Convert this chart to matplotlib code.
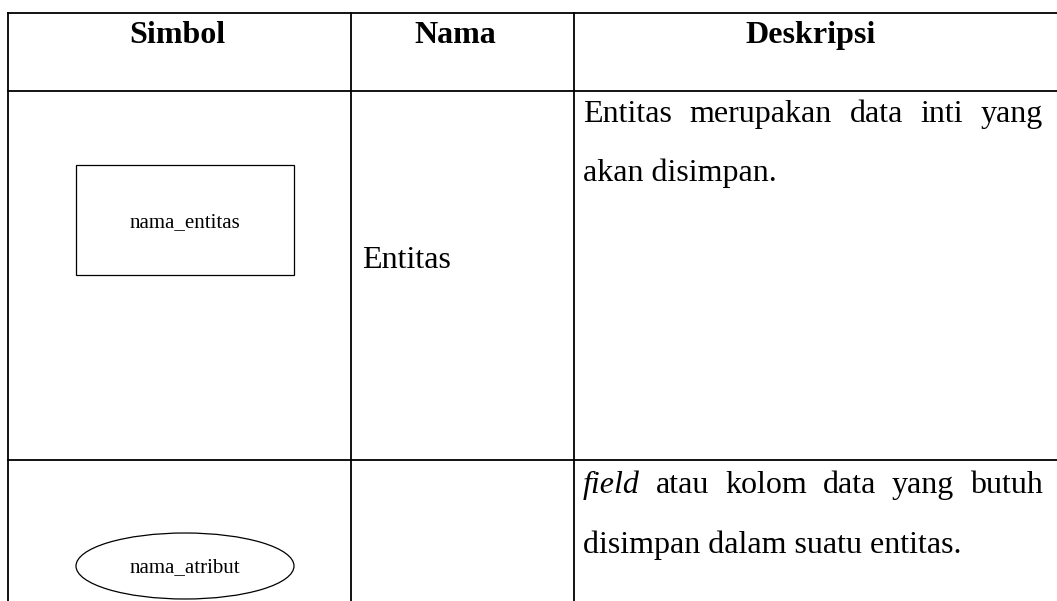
"""Recreate the ERD symbol table (Simbol / Nama / Deskripsi)."""

import matplotlib

matplotlib.use("Agg")
import matplotlib.pyplot as plt
from matplotlib.patches import Ellipse, Rectangle

headers = ["Simbol", "Nama", "Deskripsi"]
names = ["Entitas", ""]
symbol_labels = ["nama_entitas", "nama_atribut"]
symbol_shapes = ["rectangle", "ellipse"]
# each description: justified first line (list of words) + left-aligned last line
description_first = [
    ["Entitas", "merupakan", "data", "inti", "yang"],
    ["field", "atau", "kolom", "data", "yang", "butuh"],
]
description_last = ["akan disimpan.", "disimpan dalam suatu entitas."]
italic_words = {"field"}

W, H = 1057, 601
col_x = [8, 351, 574]
row_y = [13, 91, 460]
header_x = [177, 455, 811]
text_right = 1043
serif = "Liberation Serif"
size = 23


def main() -> None:
    fig = plt.figure(figsize=(W / 100, H / 100), dpi=100)
    ax = fig.add_axes([0, 0, 1, 1])
    ax.set_xlim(0, W)
    ax.set_ylim(H, 0)
    ax.axis("off")
    renderer = fig.canvas.get_renderer()

    line_kw = dict(color="black", linewidth=1.3, solid_capstyle="projecting")
    for y in row_y:
        ax.plot([col_x[0], W], [y, y], **line_kw)
    for x in col_x:
        ax.plot([x, x], [row_y[0], H + 5], **line_kw)

    # header row
    for cx, label in zip(header_x, headers):
        ax.text(cx, 43, label, ha="center", va="baseline", family=serif,
                fontsize=size, fontweight="bold")

    # symbols
    sym_cx = 185
    rect = Rectangle((76, 165), 218, 110, fill=False, edgecolor="black", linewidth=0.9)
    ax.add_patch(rect)
    ax.text(sym_cx, 227, symbol_labels[0], ha="center", va="baseline", family=serif, fontsize=15)
    ell = Ellipse((sym_cx, 566), 218, 66, fill=False, edgecolor="black", linewidth=0.9)
    ax.add_patch(ell)
    ax.text(sym_cx, 572, symbol_labels[1], ha="center", va="baseline", family=serif, fontsize=15)

    # names
    ax.text(362, 268, names[0], ha="left", va="baseline", family=serif, fontsize=size)

    # descriptions
    left = 583
    baselines = [(122, 181), (493, 553)]
    for words, last, (y1, y2) in zip(description_first, description_last, baselines):
        texts = []
        for w in words:
            style = "italic" if w in italic_words else "normal"
            t = ax.text(0, y1, w, ha="left", va="baseline", family=serif,
                        fontsize=size, fontstyle=style)
            texts.append(t)
        widths = [t.get_window_extent(renderer).width for t in texts]
        gap = (text_right - left - sum(widths)) / (len(words) - 1)
        x = left
        for t, wd in zip(texts, widths):
            t.set_x(x)
            x += wd + gap
        ax.text(left, y2, last, ha="left", va="baseline", family=serif, fontsize=size)

    fig.savefig("out.png", dpi=100)


if __name__ == "__main__":
    main()
